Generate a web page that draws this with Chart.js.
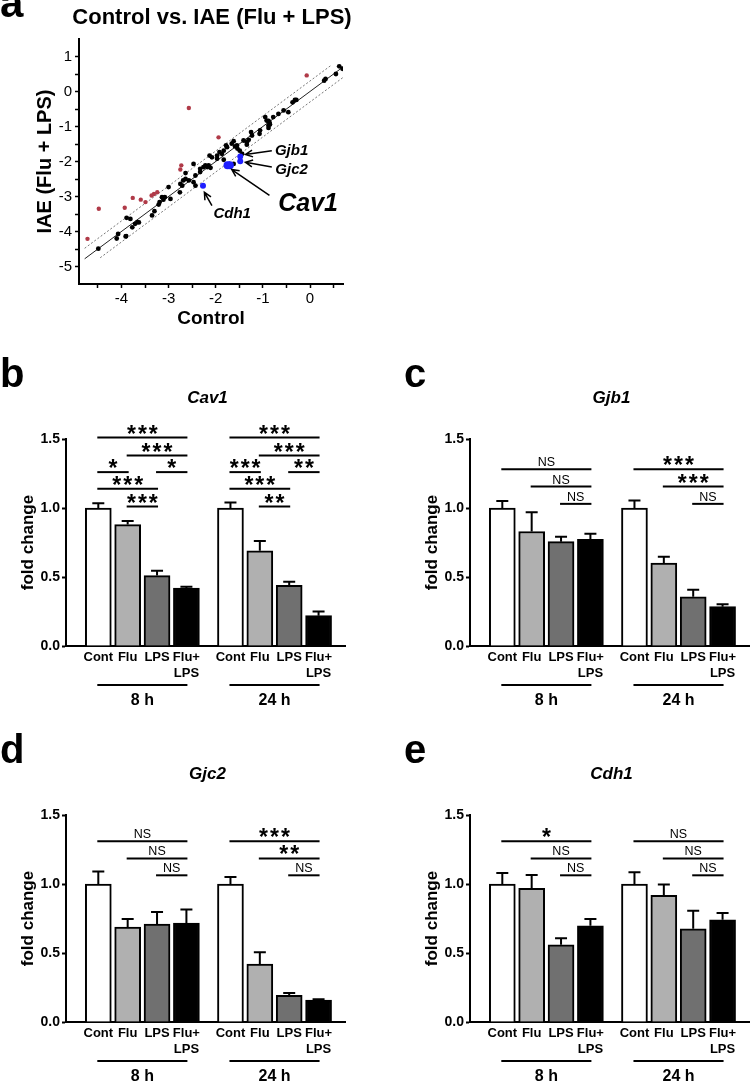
<!DOCTYPE html>
<html>
<head>
<meta charset="utf-8">
<script src="https://cdn.jsdelivr.net/npm/chart.js@4.4.1/dist/chart.umd.min.js"></script>
<style>
  html, body { margin: 0; padding: 0; background: #fff; }
  body { width: 750px; height: 1083px; position: relative; overflow: hidden; }
  canvas { position: absolute; }
</style>
</head>
<body>
<canvas id="panelA" width="380" height="330" style="left:0;top:0"></canvas>
<canvas id="panelB" width="346" height="370" style="left:0;top:340px"></canvas>
<canvas id="panelC" width="346" height="370" style="left:404px;top:340px"></canvas>
<canvas id="panelD" width="346" height="370" style="left:0;top:716px"></canvas>
<canvas id="panelE" width="346" height="370" style="left:404px;top:716px"></canvas>
<script>
// ---- panel a: Control vs. IAE (Flu + LPS), log values ----
const blackPoints = [
  [-4.49,-4.49],[-4.10,-4.20],[-4.07,-4.07],[-3.90,-4.13],[-3.91,-4.14],[-3.89,-3.61],[-3.81,-3.64],
  [-3.77,-3.88],[-3.71,-3.78],[-3.66,-3.73],[-3.63,-3.74],[-3.35,-3.54],[-3.30,-3.42],[-3.21,-3.23],
  [-3.19,-3.16],[-3.14,-3.02],[-3.11,-3.09],[-3.08,-3.02],[-2.96,-3.07],[-3.00,-2.73],[-2.76,-2.88],
  [-2.75,-2.64],[-2.71,-2.69],[-2.69,-2.54],[-2.64,-2.33],[-2.64,-2.50],[-2.57,-2.54],[-2.47,-2.59],
  [-2.43,-2.69],[-2.43,-2.40],[-2.47,-2.07],[-2.33,-2.30],[-2.33,-2.21],[-2.26,-2.16],[-2.22,-2.11],
  [-2.18,-2.16],[-2.15,-2.11],[-2.11,-2.18],[-2.13,-1.83],[-2.08,-1.88],[-1.97,-1.92],[-1.97,-1.83],
  [-1.92,-1.73],[-1.87,-1.78],[-1.83,-1.69],[-1.83,-1.95],[-1.78,-1.54],[-1.76,-1.59],[-1.62,-2.07],
  [-1.66,-1.49],[-1.62,-1.42],[-1.59,-1.57],[-1.55,-1.54],[-1.54,-1.63],[-1.49,-1.69],[-1.44,-1.78],
  [-1.41,-1.40],[-1.34,-1.45],[-1.30,-1.38],[-1.34,-1.52],[-1.25,-1.16],[-1.23,-1.26],[-1.07,-1.21],
  [-1.06,-1.11],[-0.95,-0.73],[-0.92,-0.83],[-0.88,-0.84],[-0.88,-0.97],[-0.86,-0.88],[-0.88,-1.04],
  [-0.85,-0.94],[-0.78,-0.73],[-0.67,-0.64],[-0.56,-0.54],[-0.46,-0.59],[-0.37,-0.31],[-0.32,-0.24],
  [-0.29,-0.24],[0.30,0.31],[0.33,0.36],[0.55,0.50],[0.62,0.72],[0.69,0.65]
];
const redPoints = [
  [-0.07,0.46],[-2.57,-0.47],[-1.94,-1.31],[-2.73,-2.11],[-2.75,-2.23],[-3.24,-2.88],[-3.31,-2.93],
  [-3.36,-2.97],[-3.76,-3.04],[-3.59,-3.09],[-3.49,-3.16],[-3.93,-3.32],[-4.48,-3.35],[-4.72,-4.21]
];
const bluePoints = [[-1.48,-1.86],[-1.48,-1.99],[-1.75,-2.11],[-1.70,-2.11],[-2.27,-2.69]];
const scatterXTicks = [-4.5,-4,-3.5,-3,-2.5,-2,-1.5,-1,-0.5,0,0.5];
const scatterYTicks = [-5,-4.5,-4,-3.5,-3,-2.5,-2,-1.5,-1,-0.5,0,0.5,1];
const bandOffset = 0.3;
const solidRange = [-4.78, 0.72];
const upperRange = [-4.78, 0.45];
const lowerRange = [-4.45, 0.72];
const geneNames = ['Gjb1', 'Gjc2', 'Cav1', 'Cdh1'];
const geneLabelAt = [[-0.39,-1.69],[-0.39,-2.23],[-0.04,-3.23],[-1.65,-3.51]];
const geneArrowFrom = [[-0.81,-1.69],[-0.81,-2.16],[-0.86,-2.97],[-2.08,-3.26]];
const geneArrowTo = [[-1.37,-1.80],[-1.37,-2.02],[-1.66,-2.23],[-2.24,-2.88]];

// ---- panels b-e: fold change, 8 h and 24 h ----
const groupLabels = ['Cont', 'Flu', 'LPS', ['Flu+', 'LPS']];
const timeLabels = ['8 h', '24 h'];
const barPositions = [0, 1, 2, 3, 4.5, 5.5, 6.5, 7.5];
const barYTicks = [0, 0.5, 1, 1.5];

const cav1Mean = [1.00, 0.88, 0.51, 0.42, 1.00, 0.69, 0.44, 0.22];
const cav1Sem  = [0.035, 0.025, 0.035, 0.01, 0.04, 0.07, 0.025, 0.03];
const cav1Sig  = [[0,3,1.51,'***'],[1,3,1.38,'***'],[0,1,1.26,'*'],[2,3,1.26,'*'],[0,2,1.14,'***'],[1,2,1.01,'***'],
                  [4,7,1.51,'***'],[5,7,1.38,'***'],[4,5,1.26,'***'],[6,7,1.26,'**'],[4,6,1.14,'***'],[5,6,1.01,'**']];

const gjb1Mean = [1.00, 0.83, 0.756, 0.773, 1.00, 0.60, 0.357, 0.285];
const gjb1Sem  = [0.05, 0.14, 0.035, 0.04, 0.055, 0.047, 0.05, 0.017];
const gjb1Sig  = [[0,3,1.28,'NS'],[1,3,1.155,'NS'],[2,3,1.03,'NS'],[4,7,1.28,'***'],[5,7,1.155,'***'],[6,7,1.03,'NS']];

const gjc2Mean = [1.00, 0.687, 0.71, 0.716, 1.00, 0.42, 0.194, 0.158];
const gjc2Sem  = [0.09, 0.06, 0.087, 0.10, 0.05, 0.085, 0.016, 0.007];
const gjc2Sig  = [[0,3,1.31,'NS'],[1,3,1.185,'NS'],[2,3,1.063,'NS'],[4,7,1.31,'***'],[5,7,1.185,'**'],[6,7,1.063,'NS']];

const cdh1Mean = [1.00, 0.969, 0.559, 0.697, 1.00, 0.918, 0.675, 0.741];
const cdh1Sem  = [0.08, 0.097, 0.048, 0.049, 0.085, 0.078, 0.131, 0.049];
const cdh1Sig  = [[0,3,1.31,'*'],[1,3,1.185,'NS'],[2,3,1.063,'NS'],[4,7,1.31,'NS'],[5,7,1.185,'NS'],[6,7,1.063,'NS']];

const FONT = "'Liberation Sans', Arial, sans-serif";
Chart.defaults.font.family = FONT;
Chart.defaults.color = '#000';
const barFill = ['#ffffff', '#b0b0b0', '#707070', '#000000'];

function drawArrow(ctx, x1, y1, x2, y2) {
    const a = Math.atan2(y2 - y1, x2 - x1);
    ctx.beginPath();
    ctx.moveTo(x1, y1);
    ctx.lineTo(x2, y2);
    ctx.moveTo(x2 - 8 * Math.cos(a - 0.45), y2 - 8 * Math.sin(a - 0.45));
    ctx.lineTo(x2, y2);
    ctx.lineTo(x2 - 8 * Math.cos(a + 0.45), y2 - 8 * Math.sin(a + 0.45));
    ctx.stroke();
}

function diag(range, off) {
    return range.map(x => ({x: x, y: x + off}));
}

// panel a
const scatterExtras = {
    id: 'scatterExtras',
    afterDraw(chart) {
        const ctx = chart.ctx, xs = chart.scales.x, ys = chart.scales.y;
        ctx.save();
        ctx.fillStyle = '#000';
        ctx.font = 'bold 42px ' + FONT;
        ctx.textAlign = 'left';
        ctx.textBaseline = 'alphabetic';
        ctx.fillText('a', 0, 17);
        ctx.font = 'bold 22px ' + FONT;
        ctx.textAlign = 'center';
        ctx.textBaseline = 'middle';
        ctx.fillText('Control vs. IAE (Flu + LPS)', 212, 18);
        ctx.strokeStyle = '#000';
        ctx.lineWidth = 1.5;
        for (let i = 0; i < geneNames.length; i++) {
            drawArrow(ctx, xs.getPixelForValue(geneArrowFrom[i][0]), ys.getPixelForValue(geneArrowFrom[i][1]),
                xs.getPixelForValue(geneArrowTo[i][0]), ys.getPixelForValue(geneArrowTo[i][1]));
            ctx.font = 'italic bold ' + (geneNames[i] === 'Cav1' ? 25 : 15) + 'px ' + FONT;
            ctx.fillText(geneNames[i], xs.getPixelForValue(geneLabelAt[i][0]), ys.getPixelForValue(geneLabelAt[i][1]));
        }
        ctx.restore();
    }
};

new Chart(document.getElementById('panelA').getContext('2d'), {
    type: 'scatter',
    data: {
        datasets: [
            {data: blackPoints.map(p => ({x: p[0], y: p[1]})), backgroundColor: '#000', borderWidth: 0, pointRadius: 2.4, order: 1},
            {data: redPoints.map(p => ({x: p[0], y: p[1]})), backgroundColor: '#b03a48', borderWidth: 0, pointRadius: 2.2, order: 1},
            {data: bluePoints.map(p => ({x: p[0], y: p[1]})), backgroundColor: '#1f1fff', borderWidth: 0, pointRadius: [3, 3, 4, 4, 3], order: 0},
            {data: diag(solidRange, 0), showLine: true, pointRadius: 0, borderColor: '#222', borderWidth: 1, order: 5},
            {data: diag(upperRange, bandOffset), showLine: true, pointRadius: 0, borderColor: '#555', borderWidth: 0.8, borderDash: [2, 2], order: 5},
            {data: diag(lowerRange, -bandOffset), showLine: true, pointRadius: 0, borderColor: '#555', borderWidth: 0.8, borderDash: [2, 2], order: 5}
        ]
    },
    options: {
        responsive: false,
        animation: false,
        layout: {padding: {left: 0, top: 39, right: 37, bottom: 0}},
        plugins: {legend: {display: false}, tooltip: {enabled: false}},
        scales: {
            x: {
                type: 'linear', min: -4.9, max: 0.7,
                afterBuildTicks: s => { s.ticks = scatterXTicks.map(v => ({value: v})); },
                afterFit: s => { s.height = 46; },
                grid: {drawOnChartArea: false, tickLength: 4, tickColor: '#000', tickWidth: 1.5},
                border: {color: '#000', width: 2},
                ticks: {padding: 2, font: {size: 15}, color: '#000', maxRotation: 0, autoSkip: false,
                    callback: v => Number.isInteger(v) ? String(v) : ''},
                title: {display: true, text: 'Control', color: '#000', font: {size: 19, weight: 'bold'}, padding: {top: 0, bottom: 0}}
            },
            y: {
                min: -5.5, max: 1.5,
                afterBuildTicks: s => { s.ticks = scatterYTicks.map(v => ({value: v})); },
                afterFit: s => { s.width = 79; },
                grid: {drawOnChartArea: false, tickLength: 4, tickColor: '#000', tickWidth: 1.5},
                border: {color: '#000', width: 2},
                ticks: {padding: 3, font: {size: 15}, color: '#000', autoSkip: false,
                    callback: v => Number.isInteger(v) ? String(v) : ''},
                title: {display: true, text: 'IAE (Flu + LPS)', color: '#000', font: {size: 20, weight: 'bold'}, padding: {top: 33, bottom: 0}}
            }
        }
    },
    plugins: [scatterExtras]
});

// panels b-e
function makeBarPanel(id, letter, gene, means, sems, sig) {
    const extras = {
        id: 'barExtras',
        afterDatasetsDraw(chart) {
            const ctx = chart.ctx, xs = chart.scales.x, ys = chart.scales.y;
            ctx.save();
            ctx.strokeStyle = '#000';
            ctx.lineWidth = 2;
            for (let i = 0; i < means.length; i++) {
                const x = xs.getPixelForValue(barPositions[i]);
                const y0 = ys.getPixelForValue(means[i]);
                const y1 = ys.getPixelForValue(means[i] + sems[i]);
                ctx.beginPath();
                ctx.moveTo(x, y0);
                ctx.lineTo(x, y1);
                ctx.moveTo(x - 6, y1);
                ctx.lineTo(x + 6, y1);
                ctx.stroke();
            }
            ctx.restore();
        },
        afterDraw(chart) {
            const ctx = chart.ctx, xs = chart.scales.x, ys = chart.scales.y, area = chart.chartArea;
            ctx.save();
            ctx.strokeStyle = '#000';
            ctx.fillStyle = '#000';
            ctx.lineWidth = 2;
            ctx.textAlign = 'center';
            // significance brackets
            for (const s of sig) {
                const x1 = xs.getPixelForValue(barPositions[s[0]]) - 1;
                const x2 = xs.getPixelForValue(barPositions[s[1]]) + 1;
                const y = ys.getPixelForValue(s[2]);
                ctx.beginPath();
                ctx.moveTo(x1, y);
                ctx.lineTo(x2, y);
                ctx.stroke();
                ctx.textBaseline = 'alphabetic';
                if (s[3] === 'NS') {
                    ctx.letterSpacing = '0px';
                    ctx.font = '12.5px ' + FONT;
                    ctx.fillText('NS', (x1 + x2) / 2, y - 3);
                } else {
                    ctx.letterSpacing = '2px';
                    ctx.font = 'bold 23px ' + FONT;
                    ctx.fillText(s[3], (x1 + x2) / 2 + 1, y + 4);
                }
            }
            ctx.letterSpacing = '0px';
            // time groups under the axis
            for (let g = 0; g < timeLabels.length; g++) {
                const x1 = xs.getPixelForValue(barPositions[g * 4]) - 1;
                const x2 = xs.getPixelForValue(barPositions[g * 4 + 3]) + 1;
                const y = area.bottom + 39;
                ctx.beginPath();
                ctx.moveTo(x1, y);
                ctx.lineTo(x2, y);
                ctx.stroke();
                ctx.font = 'bold 16px ' + FONT;
                ctx.textBaseline = 'middle';
                ctx.fillText(timeLabels[g], (x1 + x2) / 2, area.bottom + 55);
            }
            // panel letter and gene title
            ctx.textAlign = 'left';
            ctx.textBaseline = 'alphabetic';
            ctx.font = 'bold 40px ' + FONT;
            ctx.fillText(letter, 0, 47);
            ctx.textAlign = 'center';
            ctx.textBaseline = 'middle';
            ctx.font = 'italic bold 17px ' + FONT;
            ctx.fillText(gene, (area.left + area.right) / 2 + 2, 58);
            ctx.restore();
        }
    };
    return new Chart(document.getElementById(id).getContext('2d'), {
        type: 'bar',
        data: {
            datasets: [{
                data: barPositions.map((x, i) => ({x: x, y: means[i]})),
                backgroundColor: barPositions.map((x, i) => barFill[i % 4]),
                borderColor: '#000',
                borderWidth: 2,
                barThickness: 26
            }]
        },
        options: {
            responsive: false,
            animation: false,
            layout: {padding: {left: 0, top: 99, right: 1, bottom: 0}},
            plugins: {legend: {display: false}, tooltip: {enabled: false}},
            scales: {
                x: {
                    type: 'linear', min: -1.1, max: 8.4, offset: false,
                    afterBuildTicks: s => { s.ticks = barPositions.map(v => ({value: v})); },
                    afterFit: s => { s.height = 64; },
                    grid: {drawOnChartArea: false, drawTicks: false, offset: false},
                    border: {color: '#000', width: 2},
                    ticks: {autoSkip: false, maxRotation: 0, padding: 4, color: '#000', font: {size: 13, weight: 'bold'},
                        callback: (v, i) => groupLabels[i % 4]}
                },
                y: {
                    min: 0, max: 1.5,
                    afterBuildTicks: s => { s.ticks = barYTicks.map(v => ({value: v})); },
                    afterFit: s => { s.width = 66; },
                    grid: {drawOnChartArea: false, tickLength: 4, tickColor: '#000', tickWidth: 2},
                    border: {color: '#000', width: 2},
                    ticks: {padding: 2, color: '#000', font: {size: 14, weight: 'bold'}, callback: v => v.toFixed(1)},
                    title: {display: true, text: 'fold change', color: '#000', font: {size: 17, weight: 'bold'}, padding: {top: 18, bottom: 0}}
                }
            }
        },
        plugins: [extras]
    });
}

makeBarPanel('panelB', 'b', 'Cav1', cav1Mean, cav1Sem, cav1Sig);
makeBarPanel('panelC', 'c', 'Gjb1', gjb1Mean, gjb1Sem, gjb1Sig);
makeBarPanel('panelD', 'd', 'Gjc2', gjc2Mean, gjc2Sem, gjc2Sig);
makeBarPanel('panelE', 'e', 'Cdh1', cdh1Mean, cdh1Sem, cdh1Sig);
</script>
</body>
</html>
